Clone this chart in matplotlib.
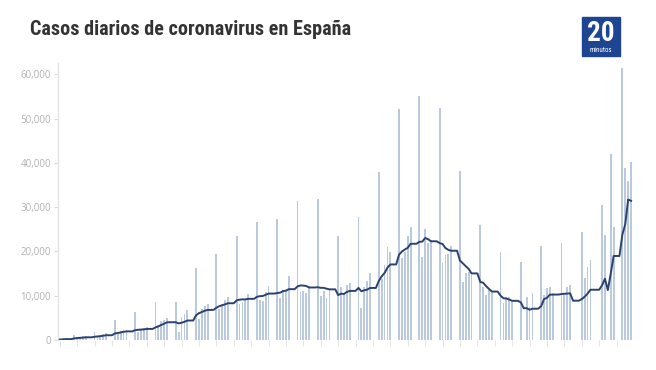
import matplotlib
matplotlib.use("Agg")
import matplotlib.pyplot as plt
import pandas as pd
from matplotlib.patches import Rectangle
from matplotlib.ticker import FuncFormatter
from matplotlib.dates import date2num

titulo = "Casos diarios de coronavirus en España"
inicio = "2020-07-01"

# Casos notificados por día (fines de semana sin notificación = 0)
casos = [
    400, 390, 480, 0, 0,                       # 1-5 jul
    1100, 450, 650, 800, 900, 0, 0,            # 6 jul
    1900, 800, 1150, 1400, 1650, 0, 0,         # 13 jul
    4580, 1360, 2000, 2300, 2260, 0, 0,        # 20 jul
    6350, 1900, 2300, 2600, 2900, 0, 0,        # 27 jul
    8530, 3500, 4200, 4500, 4970, 0, 0,        # 3 ago
    8620, 1800, 5100, 5900, 6830, 0, 0,        # 10 ago
    16270, 4800, 6900, 7600, 8080, 0, 0,       # 17 ago
    19380, 7100, 8200, 8950, 9670, 0, 0,       # 24 ago
    23572, 8115, 8581, 8959, 10476, 0, 0,      # 31 ago
    26560, 8964, 8866, 10764, 12183, 0, 0,     # 7 sep
    27404, 9437, 11193, 11291, 14389, 0, 0,    # 14 sep
    31428, 10799, 11016, 10653, 12272, 0, 0,   # 21 sep
    31785, 9906, 11016, 9419, 11325, 0, 0,     # 28 sep
    23480, 11998, 10491, 12423, 12788, 0, 0,   # 5 oct
    27856, 7118, 11970, 13318, 15186, 0, 0,    # 12 oct
    37889, 13873, 16973, 20986, 19851, 0, 0,   # 19 oct
    52188, 18418, 19765, 23580, 25595, 0, 0,   # 26 oct
    55019, 18669, 25042, 21908, 22516, 0, 0,   # 2 nov
    52386, 17395, 19096, 19349, 21200, 0, 0,   # 9 nov
    38273, 13159, 15050, 15400, 14700, 0, 0,   # 16 nov
    25886, 12030, 10160, 11290, 10900, 0, 0,   # 23 nov
    19950, 8280, 9770, 9770, 9030, 0, 0,       # 30 nov
    17550, 0, 9800, 7500, 10550, 0, 0,         # 7 dic
    21250, 10200, 11700, 12050, 10700, 0, 0,   # 14 dic
    22000, 10550, 12050, 12400, 0, 0, 0,       # 21 dic
    24300, 14000, 16550, 18050, 0, 0, 0,       # 28 dic
    30579, 23700, 0, 42100, 25456, 0, 0,       # 4 ene
    61422, 38869, 35878, 40197,                # 11-14 ene
]

ticks_y = [0, 10000, 20000, 30000, 40000, 50000, 60000]

fechas = pd.date_range(inicio, periods=len(casos), freq="D")
serie = pd.Series(casos, index=fechas)
media = serie.rolling(7, min_periods=1).sum() / 7

W, H = 656, 370
fig = plt.figure(figsize=(W / 100, H / 100), dpi=100)
fig.patch.set_facecolor("white")

ax = fig.add_axes([58 / W, 30 / H, (638 - 58) / W, 277 / H])
ax.bar(fechas, serie.values, width=0.62, color="#bac9de", linewidth=0)

ax2 = ax.twinx()
ax2.plot(fechas, media.values, color="#2b4270", lw=1.4, solid_joinstyle="round")

x0 = date2num(fechas[0])
ax.set_xlim(x0 - 0.62, x0 + 199.4)
ymax = 62550
ax.set_ylim(0, ymax)
ax2.set_ylim(0, ymax / 1.09)

for s in ["top", "right", "bottom"]:
    ax.spines[s].set_visible(False)
ax.spines["left"].set_color("#e3e3e3")
ax.spines["left"].set_linewidth(1)
ax2.axis("off")

ax.set_yticks(ticks_y)
ax.yaxis.set_major_formatter(FuncFormatter(lambda v, p: f"{int(v):,}"))
ax.tick_params(axis="y", length=3, width=0.8, color="#dcdcdc",
               labelcolor="#b0b0b0", labelsize=7, pad=2)
for lab in ax.get_yticklabels():
    lab.set_family(["Open Sans", "DejaVu Sans"])
ax.set_xticks(fechas[::6])
ax.tick_params(axis="x", length=4, width=0.6, color="#e0e0e0", labelbottom=False)

fig.text(30 / W, 1 - 35 / H, titulo, fontsize=14.5, fontweight="bold",
         color="#333333", va="baseline",
         family=["Roboto Condensed", "DejaVu Sans"])

# Logo 20minutos
fig.patches.append(Rectangle((582 / W, 1 - 56 / H), 38 / W, 39 / H,
                             transform=fig.transFigure, color="#1d4592"))
fig.text(601 / W, 1 - 41 / H, "20", fontsize=19.5, fontweight="bold", color="white",
         ha="center", va="baseline",
         family=["Roboto Condensed", "DejaVu Sans"])
fig.text(601 / W, 1 - 52.5 / H, "minutos", fontsize=5, color="white",
         ha="center", va="baseline",
         family=["Roboto Condensed", "DejaVu Sans"])

fig.savefig("out.png", dpi=100)
